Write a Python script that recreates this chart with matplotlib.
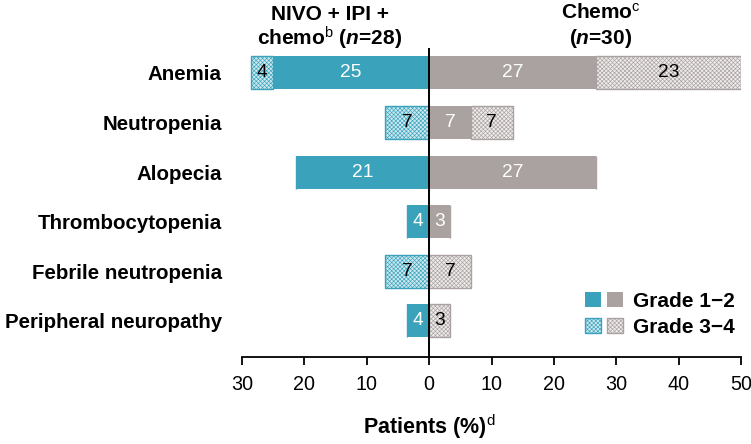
import matplotlib
matplotlib.use("Agg")
import matplotlib.pyplot as plt
import numpy as np
from matplotlib.patches import Patch
from matplotlib.legend_handler import HandlerTuple
from matplotlib.transforms import blended_transform_factory

plt.rcParams['font.family'] = ['Liberation Sans', 'DejaVu Sans']
plt.rcParams['mathtext.fontset'] = 'custom'
plt.rcParams['mathtext.rm'] = 'Liberation Sans'
plt.rcParams['mathtext.bf'] = 'Liberation Sans:bold'
plt.rcParams['mathtext.it'] = 'Liberation Sans:italic'
plt.rcParams['mathtext.bfit'] = 'Liberation Sans:bold:italic'
plt.rcParams['hatch.linewidth'] = 0.45

categories = ['Anemia', 'Neutropenia', 'Alopecia', 'Thrombocytopenia',
              'Febrile neutropenia', 'Peripheral neuropathy']
nivo_g12 = [25.0, 0.0, 21.4, 3.6, 0.0, 3.6]
nivo_g34 = [3.6, 7.1, 0.0, 0.0, 7.1, 0.0]
chemo_g12 = [26.7, 6.7, 26.7, 3.3, 0.0, 0.0]
chemo_g34 = [23.3, 6.7, 0.0, 0.0, 6.7, 3.3]
xticks = [-30, -20, -10, 0, 10, 20, 30, 40, 50]
xticklabels = ['30', '20', '10', '0', '10', '20', '30', '40', '50']

TEAL = '#3aa3bb'
GRAY = '#aaa1a1'
TEAL_L = '#cde9f0'
GRAY_L = '#eeebeb'
HATCH = 'xxxxxxxx'

fig = plt.figure(figsize=(7.51, 4.44), dpi=100)
ax = fig.add_axes([0.322, 0.196, 0.665, 0.696])

y = np.arange(len(categories))
h = 0.665
ng12 = np.array(nivo_g12); ng34 = np.array(nivo_g34)
cg12 = np.array(chemo_g12); cg34 = np.array(chemo_g34)

ax.barh(y, -ng12, height=h, color=TEAL, lw=0)
ax.barh(y, -ng34, left=-ng12, height=h, facecolor=TEAL_L, edgecolor=TEAL,
        hatch=HATCH, lw=1.0)
ax.barh(y, cg12, height=h, color=GRAY, lw=0)
ax.barh(y, cg34, left=cg12, height=h, facecolor=GRAY_L, edgecolor=GRAY,
        hatch=HATCH, lw=1.0)

fs_bar = 13.8
for i in range(len(categories)):
    if ng12[i] > 0:
        ax.text(-ng12[i] / 2, i, f"{round(ng12[i])}", ha='center', va='center',
                color='white', fontsize=fs_bar)
    if ng34[i] > 0:
        ax.text(-ng12[i] - ng34[i] / 2, i, f"{round(ng34[i])}", ha='center',
                va='center', color='black', fontsize=fs_bar)
    if cg12[i] > 0:
        ax.text(cg12[i] / 2, i, f"{round(cg12[i])}", ha='center', va='center',
                color='white', fontsize=fs_bar)
    if cg34[i] > 0:
        ax.text(cg12[i] + cg34[i] / 2, i, f"{round(cg34[i])}", ha='center',
                va='center', color='black', fontsize=fs_bar)

ax.axvline(0, color='black', lw=1.4, zorder=5)

ax.set_xlim(-30, 50)
ax.set_ylim(5.726, -0.504)
ax.set_xticks(xticks)
ax.set_xticklabels(xticklabels, fontsize=14.2)
ax.set_yticks(y)
ax.set_yticklabels(categories, fontsize=14.8, fontweight='bold')
ax.tick_params(axis='y', length=0, pad=14.4)
ax.tick_params(axis='x', length=6, width=1.3, pad=7, direction='out')
for s in ['top', 'right', 'left']:
    ax.spines[s].set_visible(False)
ax.spines['bottom'].set_linewidth(1.3)

tr = blended_transform_factory(ax.transData, fig.transFigure)
ax.text(0, 1 - 427 / 444, r"Patients (%)$^{\mathrm{d}}$", transform=tr, ha='center',
        va='center', fontsize=15.5, fontweight='bold')

head_kw = dict(transform=tr, ha='center', va='baseline', fontsize=15,
               fontweight='bold')
ax.text(-15.9, 1 - 20 / 444, "NIVO + IPI +", **head_kw)
ax.text(-15.9, 1 - 45 / 444, "chemo$^{\\mathrm{b}}$ ($\\mathbfit{n}$=28)", **head_kw)
ax.text(27.5, 1 - 19 / 444, "Chemo$^{\\mathrm{c}}$", **head_kw)
ax.text(27.5, 1 - 44 / 444, "($\\mathbfit{n}$=30)", **head_kw)

handles = [(Patch(facecolor=TEAL, lw=0), Patch(facecolor=GRAY, lw=0)),
           (Patch(facecolor=TEAL_L, edgecolor=TEAL, hatch=HATCH, lw=1.0),
            Patch(facecolor=GRAY_L, edgecolor=GRAY, hatch=HATCH, lw=1.0))]
leg = ax.legend(handles, ['Grade 1\u22122', 'Grade 3\u22124'],
                handler_map={tuple: HandlerTuple(ndivide=None, pad=0.29)},
                loc='lower right', bbox_to_anchor=(0.988, 0.065), frameon=False,
                prop={'weight': 'bold', 'size': 15}, handlelength=1.83,
                handleheight=0.77, handletextpad=0.48, labelspacing=0.35,
                borderaxespad=0, borderpad=0)

fig.savefig('out.png', dpi=100)
